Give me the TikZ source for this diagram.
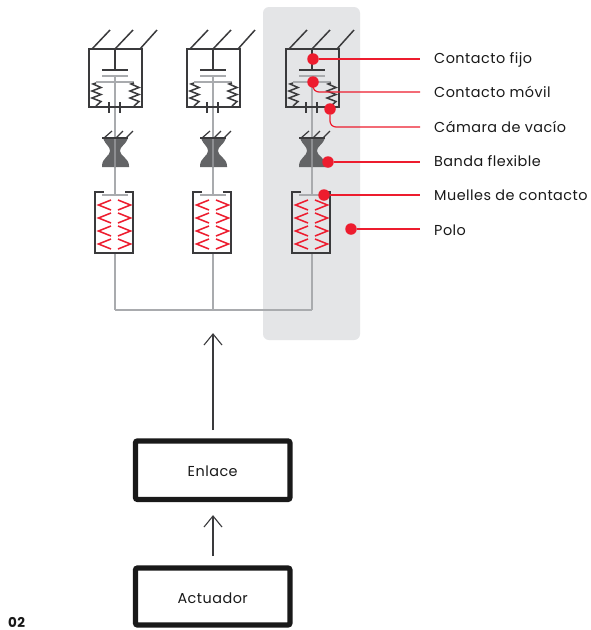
\documentclass[tikz,border=0pt]{standalone}
\usepackage{fontspec}
\setmainfont{Poppins}[LetterSpace=3.3]
\definecolor{panel}{HTML}{E4E5E7}
\definecolor{redabb}{HTML}{ED1C2E}
\definecolor{stemg}{HTML}{A9ABAE}
\definecolor{dark}{HTML}{3A3A3C}
\definecolor{bandg}{HTML}{636466}
\tikzset{
  darkline/.style={draw=dark,line width=1.5pt},
  stemline/.style={draw=stemg,line width=1.6pt},
  redzig/.style={draw=redabb,line width=1.5pt},
  leader/.style={draw=redabb,line width=1.2pt,rounded corners=6pt},
  dotnode/.style={circle,fill=redabb,inner sep=0pt,minimum size=11.5pt},
  lab/.style={anchor=base west,inner sep=0pt,font=\fontsize{14.4}{16}\selectfont,text=black!90},
  blockbox/.style={draw=black!90,line width=5.2pt,rounded corners=2pt,minimum width=154.5pt,inner sep=0pt},
  blocktext/.style={anchor=base,inner sep=0pt,font=\fontsize{14.4}{16}\selectfont,text=black!90},
  flow/.style={draw=dark,line width=1.1pt},
}
\newcommand{\poleunit}[1]{%
\begin{scope}[shift={(#1,0)}]
  % stem
  \draw[stemline] (115,76) -- (115,195);
  \draw[stemline] (115,253) -- (115,310);
  % chamber
  \draw[darkline] (89,49) rectangle (142,107);
  \draw[darkline] (92,49) -- (110,30);
  \draw[darkline] (115,49) -- (133,30);
  \draw[darkline] (140,49) -- (157,30);
  \draw[darkline] (115,49) -- (115,69);
  \draw[darkline] (102,70) -- (128,70);
  \draw[stemline] (102,76) -- (128,76);
  \draw[stemline] (96,82) -- (134,82);
  \draw[darkline] (96,83) -- (93,84) -- (101,87.5) -- (92,91) -- (101,94.5) -- (92,98) -- (101,101.5) -- (96,106);
  \draw[darkline] (134,83) -- (131,84) -- (139,87.5) -- (130,91) -- (139,94.5) -- (130,98) -- (139,101.5) -- (134,106);
  \draw[darkline] (109,102) -- (109,113);
  \draw[darkline] (120,102) -- (120,113);
  % band
  \fill[bandg] (103,138) .. controls (106,146) and (110,146) .. (110,151)
     .. controls (110,156) and (102,158) .. (102,166) -- (102,167) -- (129,167) -- (129,166)
     .. controls (129,158) and (120,156) .. (120,151)
     .. controls (120,146) and (125,146) .. (128,138) -- cycle;
  \draw[stemline,draw opacity=.6] (115,138) -- (115,167);
  \draw[darkline,line width=1.2pt] (102,138) -- (128,138);
  \draw[darkline,line width=1.2pt] (104,138) -- (112,131);
  \draw[darkline,line width=1.2pt] (116,138) -- (123,131);
  \draw[darkline,line width=1.2pt] (126,138) -- (133,131);
  % spring box
  \draw[darkline] (104,192) -- (95,192) -- (95,253) -- (133,253) -- (133,192) -- (125,192);
  \draw[stemline] (102,195) -- (128,195);
  \foreach \ya in {200,213,226,239}{
    \draw[redzig] (111,\ya) -- (98.5,\ya+5) -- (111,\ya+10);
    \draw[redzig] (118,\ya) -- (130.5,\ya+5) -- (118,\ya+10);
  }
\end{scope}}
\begin{document}
\begin{tikzpicture}[x=1pt,y=-1pt]
\useasboundingbox (0,0) rectangle (590,630);
\fill[white] (0,0) rectangle (590,630);
\fill[panel,rounded corners=6pt] (263,7) rectangle (360,340);
\poleunit{0}
\poleunit{98}
\poleunit{197}
\draw[stemline] (115,310) -- (312,310);
% labels
\node[lab] (lf) at (434,63) {Contacto fijo};
\node[lab] (lm) at (434,97.5) {Contacto móvil};
\node[lab] (lc) at (434,132) {Cámara de vacío};
\node[lab] (lb) at (434,166) {Banda flexible};
\node[lab] (lu) at (434,200.5) {Muelles de contacto};
\node[lab] (lp) at (434,235) {Polo};
% dots
\node[dotnode] (df) at (313,59) {};
\node[dotnode] (dm) at (313,82) {};
\node[dotnode] (dc) at (330,109) {};
\node[dotnode] (db) at (328,162) {};
\node[dotnode] (du) at (324,195) {};
\node[dotnode] (dp) at (351,229) {};
\coordinate (ef) at (420,59);
\coordinate (em) at (420,92);
\coordinate (ec) at (420,127);
\coordinate (eb) at (420,162);
\coordinate (eu) at (420,195);
\coordinate (ep) at (420,229);
\draw[leader] (df) -- (ef);
\draw[leader] (dm) |- (em);
\draw[leader] (dc) |- (ec);
\draw[leader] (db) -- (eb);
\draw[leader] (du) -- (eu);
\draw[leader] (dp) -- (ep);
% blocks
\node[blockbox,minimum height=58.5pt] (enl) at (212.7,470.2) {};
\node[blockbox,minimum height=57pt] (act) at (212.7,596.5) {};
\node[blocktext] (enlt) at (212.7,476) {Enlace};
\node[blocktext] (actt) at (212.7,603) {Actuador};
\coordinate (polebar) at (213,334);
\draw[flow] (213,430) coordinate (s1) -- (polebar);
\draw[flow] (204,345) -- (polebar) -- (222,345);
\coordinate (enlin) at (213,516);
\draw[flow] (213,556) coordinate (s2) -- (enlin);
\draw[flow] (204,527) -- (enlin) -- (222,527);
\node[anchor=base west,inner sep=0pt,font=\fontsize{13.5}{14}\selectfont\bfseries,text=black!90] (num) at (8,627.5) {02};
\end{tikzpicture}
\end{document}
